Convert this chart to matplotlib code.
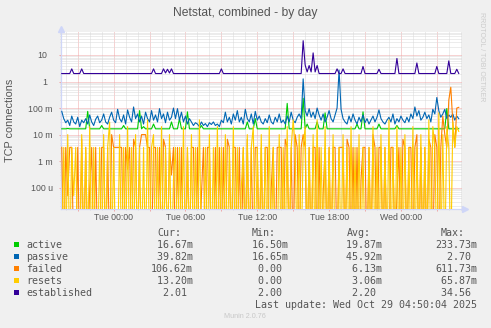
import numpy as np
import matplotlib
matplotlib.use("Agg")
import matplotlib.pyplot as plt
from matplotlib.ticker import MultipleLocator, LogLocator, NullFormatter
from matplotlib.patches import Rectangle
from matplotlib.transforms import ScaledTranslation

W, H, DPI = 491, 328, 100

# ---------------- data ----------------
title = "Netstat, combined - by day"
y_label = "TCP connections"
series_names = ["active", "passive", "failed", "resets", "established"]
series_colors = ["#00CC00", "#0066B3", "#FF8000", "#FFCC00", "#330099"]

sample_step_h = 1.0 / 6.0   # 10-minute samples
last_sample_h = 28.83       # Wed 04:50, hours after Tue 00:00

active_milli = [
    16.5, 16.5, 16.5, 17, 16.5, 16.5, 16.5, 16.5, 16.5, 16.5,
    16.5, 16.5, 16.5, 75, 16.5, 16.5, 16.5, 16.5, 16.5, 16.5,
    22, 16.5, 16.5, 16.5, 16.5, 16.5, 16.5, 16.5, 16.5, 16.5,
    16.5, 22, 16.5, 16.5, 16.5, 16.5, 16.5, 16.5, 16.5, 80,
    16.5, 20, 16.5, 16.5, 16.5, 16.5, 25, 16.5, 16.5, 16.5,
    16.5, 16.5, 16.5, 16.5, 16.5, 30, 16.5, 16.5, 16.5, 40,
    16.5, 16.5, 16.5, 72, 16.5, 16.5, 16.5, 16.5, 16.5, 16.5,
    22, 16.5, 16.5, 16.5, 16.5, 16.5, 16.5, 16.5, 16.5, 16.5,
    16.5, 16.5, 16.5, 16.5, 16.5, 16.5, 16.5, 16.5, 16.5, 16.5,
    16.5, 16.5, 16.5, 30, 16.5, 16.5, 16.5, 40, 16.5, 16.5,
    16.5, 16.5, 16.5, 16.5, 16.5, 16.5, 16.5, 16.5, 16.5, 16.5,
    16.5, 16.5, 16.5, 150, 16.5, 16.5, 16.5, 16.5, 16.5, 16.5,
    16.5, 233.7, 16.5, 25, 16.5, 16.5, 16.5, 16.5, 30, 16.5,
    16.5, 16.5, 66, 16.5, 16.5, 16.5, 16.5, 16.5, 16.5, 16.5,
    16.5, 16.5, 16.5, 16.5, 16.5, 16.5, 16.5, 16.5, 25, 16.5,
    16.5, 72, 16.5, 16.5, 16.5, 16.5, 16.5, 16.5, 16.5, 25,
    16.5, 16.5, 16.5, 16.5, 16.5, 16.5, 16.5, 16.5, 22, 16.5,
    16.5, 16.5, 16.5, 16.5, 16.5, 16.5, 16.5, 16.5, 16.5, 16.5,
    16.5, 16.5, 16.5, 16.5, 16.5, 16.5, 16.5, 16.5, 16.5, 16.5,
    16.5, 16.5, 16.5, 96, 16.5, 16.5, 16.5, 16.5, 16.5, 16.67,
]
passive_milli = [
    75, 40, 28, 35, 22, 50, 30, 25, 45, 20, 35, 28, 40, 25, 55, 30, 22, 38, 50, 28,
    35, 60, 30, 25, 45, 70, 35, 28, 90, 40, 30, 55, 25, 85, 45, 30, 110, 40, 60, 30,
    50, 25, 70, 40, 30, 80, 35, 55, 30, 95, 40, 60, 28, 70, 35, 45, 100, 40, 95, 35,
    70, 30, 50, 25, 40, 30, 22, 28, 25, 20, 30, 22, 26, 20, 28, 24, 30, 22, 25, 20,
    35, 28, 70, 30, 45, 25, 60, 35, 80, 30, 45, 25, 90, 40, 30, 60, 25, 75, 35, 50,
    30, 25, 40, 28, 55, 30, 25, 45, 30, 60, 28, 35, 25, 50, 30, 70, 35, 28, 45, 60,
    40, 1260, 80, 50, 95, 45, 70, 40, 100, 55, 35, 60, 30, 45, 80, 40, 30, 55, 100, 2700,
    90, 40, 30, 25, 50, 30, 60, 35, 25, 45, 30, 55, 28, 40, 25, 35, 50, 30, 45, 85,
    40, 30, 25, 35, 45, 30, 60, 25, 40, 30, 50, 35, 28, 45, 30, 60, 40, 110, 50, 80,
    35, 45, 70, 40, 55, 30, 90, 60, 250, 80, 45, 60, 90, 40, 55, 45, 60, 35, 50, 39.8,
]
failed_milli = [
    3.3, 0, 3.3, 0.05, 3.3, 3.3, 0, 0, 3.3, 0, 6.7, 0, 3.3, 0, 0.1, 3.3, 0, 3.3, 0, 0,
    3.3, 3.3, 0, 3.3, 0, 10, 3.3, 3.3, 3.3, 3.3, 3.3, 0, 3.3, 0.5, 3.3, 0, 6.7, 3.3, 0, 3.3,
    10, 10, 10, 3.3, 3.3, 0, 3.3, 3.3, 0, 3.3, 0, 6.7, 3.3, 0, 3.3, 0.3, 3.3, 0, 3.3, 0,
    3.3, 0, 0, 3.3, 0, 3.3, 3.3, 0, 3.3, 0, 0.05, 3.3, 0, 3.3, 3.3, 0, 0, 3.3, 0, 3.3,
    0, 3.3, 0, 6.7, 3.3, 0, 3.3, 3.3, 0, 3.3, 0, 3.3, 0, 6.7, 0, 3.3, 0, 3.3, 3.3, 0,
    3.3, 0, 3.3, 3.3, 0, 0.1, 3.3, 0, 3.3, 3.3, 3.3, 0, 6.7, 3.3, 0, 3.3, 0, 10, 3.3, 0,
    3.3, 10, 3.3, 0, 3.3, 0, 3.3, 3.3, 0, 3.3, 0, 0.05, 3.3, 0, 3.3, 0, 3.3, 3.3, 0, 3.3,
    3.3, 3.3, 0, 6.7, 3.3, 0, 3.3, 0, 3.3, 0, 0.2, 3.3, 3.3, 0, 3.3, 0, 10, 3.3, 0, 3.3,
    3.3, 0, 3.3, 0, 0, 3.3, 3.3, 0, 0.05, 3.3, 0, 6.7, 3.3, 0, 3.3, 3.3, 0, 3.3, 10, 0,
    3.3, 0, 3.3, 0, 6.7, 3.3, 0, 10, 3.3, 0, 3.3, 50, 10, 3.3, 200, 611.7, 30, 3.3, 100, 106.6,
]
resets_milli = [
    0, 3.3, 0, 10, 0, 3.3, 0.05, 3.3, 0, 0, 10, 0, 3.3, 0, 20, 0, 3.3, 0, 0, 3.3,
    0, 10, 0, 3.3, 30, 0, 3.3, 0, 0, 10, 0, 3.3, 0, 20, 0, 3.3, 0, 10, 0, 3.3,
    0, 3.3, 0, 36, 0, 3.3, 10, 0, 3.3, 0, 20, 0, 3.3, 0, 10, 0, 0.2, 3.3, 0, 3.3,
    0, 20, 0, 3.3, 0, 10, 0, 3.3, 0, 36, 0, 0, 3.3, 0, 10, 0, 3.3, 0, 20, 0,
    3.3, 0, 10, 0, 3.3, 0, 20, 0, 3.3, 0, 0.1, 3.3, 0, 10, 0, 3.3, 20, 0, 3.3, 0,
    10, 0, 3.3, 0, 20, 0, 3.3, 0, 0, 10, 0, 3.3, 0, 20, 0, 3.3, 36, 3.3, 0, 10,
    0, 3.3, 20, 0, 3.3, 0, 10, 0, 36, 0, 3.3, 0, 20, 0, 3.3, 0, 10, 0, 0, 3.3,
    0, 10, 0, 3.3, 0, 20, 0, 3.3, 0, 10, 0, 3.3, 0, 0, 3.3, 0, 20, 0, 3.3, 0,
    10, 0, 3.3, 0, 36, 0, 3.3, 0, 20, 0, 3.3, 0, 10, 0, 3.3, 0, 20, 0, 3.3, 0,
    10, 0, 3.3, 0, 36, 0, 20, 3.3, 0, 65.9, 0, 10, 0, 20, 3.3, 0, 30, 3.3, 20, 13.2,
]
established = [
    2, 2, 2, 2, 2, 3, 2, 2, 2, 2,
    3, 2, 2, 2, 2, 2, 2, 2, 2, 2,
    2, 2, 2, 2, 2, 2, 2, 2, 2, 2,
    2, 2, 2, 2, 2, 2, 2, 2, 2, 2,
    2, 2, 2, 2, 2, 2, 3, 2, 2, 2,
    2, 3, 2.1, 2.9, 2.1, 3, 2, 2, 2, 2,
    2, 2, 2, 2, 2, 2, 2, 2, 2, 2,
    2, 2, 2, 2, 2, 2, 2, 2, 2, 2,
    3, 2, 2, 2, 2, 2, 2, 2, 2, 2,
    2, 2, 2, 2, 2, 2, 2, 2, 2, 2,
    2, 2, 2, 2, 2, 2, 2, 2, 2, 2,
    2, 2, 2, 2, 2, 2, 2, 2, 2, 2,
    2, 34.56, 4.2, 2.3, 4, 2.3, 12, 2.3, 4, 2,
    2, 2, 2, 2, 2, 2, 2, 2, 3, 2,
    2, 3, 2, 2, 2, 2, 2, 2, 2, 2,
    2, 3.7, 2, 2, 2, 2, 2, 2, 2, 2.9,
    2, 2, 2, 2, 2, 2, 2, 2, 7.4, 2,
    2, 2, 2, 2, 2, 2, 2, 2, 5, 2,
    2, 2, 2, 2, 2, 2, 2, 2, 3.7, 2,
    2, 2, 2, 2, 6, 2, 2, 2, 2.9, 2.01,
]

legend_headers = ["Cur:", "Min:", "Avg:", "Max:"]
legend_cur = ["16.67m", "39.82m", "106.62m", "13.20m", "2.01"]
legend_min = ["16.50m", "16.65m", "0.00", "0.00", "2.00"]
legend_avg = ["19.87m", "45.92m", "6.13m", "3.06m", "2.20"]
legend_max = ["233.73m", "2.70", "611.73m", "65.87m", "34.56"]
last_update = "Last update: Wed Oct 29 04:50:04 2025"
footer = "Munin 2.0.76"
side_text = "RRDTOOL / TOBI OETIKER"

y_tick_values = [1e-4, 1e-3, 1e-2, 1e-1, 1, 10]
y_tick_labels = ["100 u", "1 m", "10 m", "100 m", "1", "10"]
x_label_hours = [0, 6, 12, 18, 24]
x_tick_labels = ["Tue 00:00", "Tue 06:00", "Tue 12:00", "Tue 18:00", "Wed 00:00"]

# ---------------- style ----------------
BG = "#F0F0F0"
FONT_C = "#555555"
AXIS_C = "#CFD6F8"
MGRID_C = "#F0A6A6"
GRID_C = "#DADADA"
plt.rcParams["font.family"] = ["Liberation Sans", "DejaVu Sans"]

fig = plt.figure(figsize=(W / DPI, H / DPI), dpi=DPI, facecolor=BG)

def fx(x):
    return x / W

def fy(y):
    return 1 - y / H

plot_l, plot_r, plot_t, plot_b = 61, 462, 32, 208.5
ax = fig.add_axes([fx(plot_l), fy(plot_b), (plot_r - plot_l) / W, (plot_b - plot_t) / H])
ax.set_facecolor("white")
ax.set_yscale("log")
ymin, ymax = 1.64e-5, 73.5
ax.set_ylim(ymin, ymax)
ax.set_xlim(-4.40, 29.10)

n = len(established)
times = last_sample_h - sample_step_h * np.arange(n - 1, -1, -1)
floor = ymin / 100.0
series = [
    np.array(active_milli) * 1e-3,
    np.array(passive_milli) * 1e-3,
    np.array(failed_milli) * 1e-3,
    np.array(resets_milli) * 1e-3,
    np.array(established, dtype=float),
]
for vals, col in zip(series, series_colors):
    m = min(len(vals), n)
    ax.plot(times[:m], np.maximum(vals[:m], floor), color=col, lw=0.8, zorder=3)

# grid
ax.set_axisbelow(True)
major_x = np.arange(-3, 30, 3)
xlabels = []
for h in major_x:
    if h in x_label_hours:
        xlabels.append(x_tick_labels[x_label_hours.index(h)])
    else:
        xlabels.append("")
ax.set_xticks(major_x, xlabels)
ax.xaxis.set_minor_locator(MultipleLocator(1))
ax.set_yticks(y_tick_values, y_tick_labels)
ax.yaxis.set_minor_locator(LogLocator(base=10, subs=np.arange(2, 10), numticks=30))
ax.yaxis.set_minor_formatter(NullFormatter())
dot = (0, (1, 1))
ax.grid(which="major", color=MGRID_C, linestyle=dot, linewidth=0.72)
ax.grid(which="minor", color=GRID_C, linestyle=dot, linewidth=0.72)

ax.tick_params(which="major", length=1.5, width=0.72, color=MGRID_C,
               labelsize=6.3, labelcolor=FONT_C)
ax.tick_params(which="minor", length=1.0, width=0.72, color=GRID_C)
ax.tick_params(axis="x", which="major", pad=1.5)
ax.tick_params(axis="y", which="major", pad=4.5)

for lab in ax.get_yticklabels():
    if not lab.get_text().endswith(("m", "u")):
        lab.set_transform(lab.get_transform() + ScaledTranslation(-5.5 / DPI, 0, fig.dpi_scale_trans))

for s in ["top", "right"]:
    ax.spines[s].set_visible(False)
for s in ["left", "bottom"]:
    ax.spines[s].set_color(AXIS_C)
    ax.spines[s].set_linewidth(0.9)

# arrows
ax.plot([0], [1], marker="^", color=AXIS_C, markersize=4, clip_on=False,
        transform=ax.transAxes + ScaledTranslation(0, 3 / DPI, fig.dpi_scale_trans))
ax.plot([1], [0], marker=">", color=AXIS_C, markersize=4, clip_on=False,
        transform=ax.transAxes + ScaledTranslation(2.5 / DPI, 0, fig.dpi_scale_trans))

# texts
fig.text(fx(245), fy(16.3), title, ha="center", va="baseline", fontsize=8.7, color=FONT_C)
fig.text(fx(10), fy(120), y_label, rotation=90, ha="center", va="center",
         fontsize=7.8, color=FONT_C)
fig.text(fx(482), fy(57), side_text, rotation=270, ha="center", va="center",
         fontsize=5, color="#CCCCCC")

mono = "DejaVu Sans Mono"
mfs = 7.2
char_w = 6.0
col_ends = [193, 288, 382.5, 477]
header_x = [157.7, 251.7, 346.5, 440.5]
row_y0, row_dy = 244.7, 12.0

for hx, htxt in zip(header_x, legend_headers):
    fig.text(fx(hx), fy(232.7 + 3.3), htxt, family=mono, fontsize=mfs,
             color=FONT_C, ha="left", va="baseline")

columns = [legend_cur, legend_min, legend_avg, legend_max]
for i, (name, col) in enumerate(zip(series_names, series_colors)):
    yc = row_y0 + i * row_dy
    fig.patches.append(Rectangle((fx(14), fy(yc + 2.6)), 5.3 / W, 5.3 / H,
                                 transform=fig.transFigure, facecolor=col,
                                 edgecolor="none"))
    fig.text(fx(26), fy(yc + 3.3), name, family=mono, fontsize=mfs,
             color=FONT_C, ha="left", va="baseline")
    for cvals, cend in zip(columns, col_ends):
        s = cvals[i]
        if not s.endswith(("m", "u", "k")):
            s = s + " "
        s = s.rjust(7)
        fig.text(fx(cend - 7 * char_w), fy(yc + 3.3), s, family=mono, fontsize=mfs,
                 color=FONT_C, ha="left", va="baseline")

fig.text(fx(255.3), fy(304.7 + 3.3), last_update, family=mono, fontsize=mfs,
         color=FONT_C, ha="left", va="baseline")
fig.text(fx(245), fy(316.3), footer, ha="center", va="center", fontsize=5.2, color="#C8C8C8")

print([len(s) for s in series])
fig.savefig("out.png", dpi=DPI, facecolor=BG)
